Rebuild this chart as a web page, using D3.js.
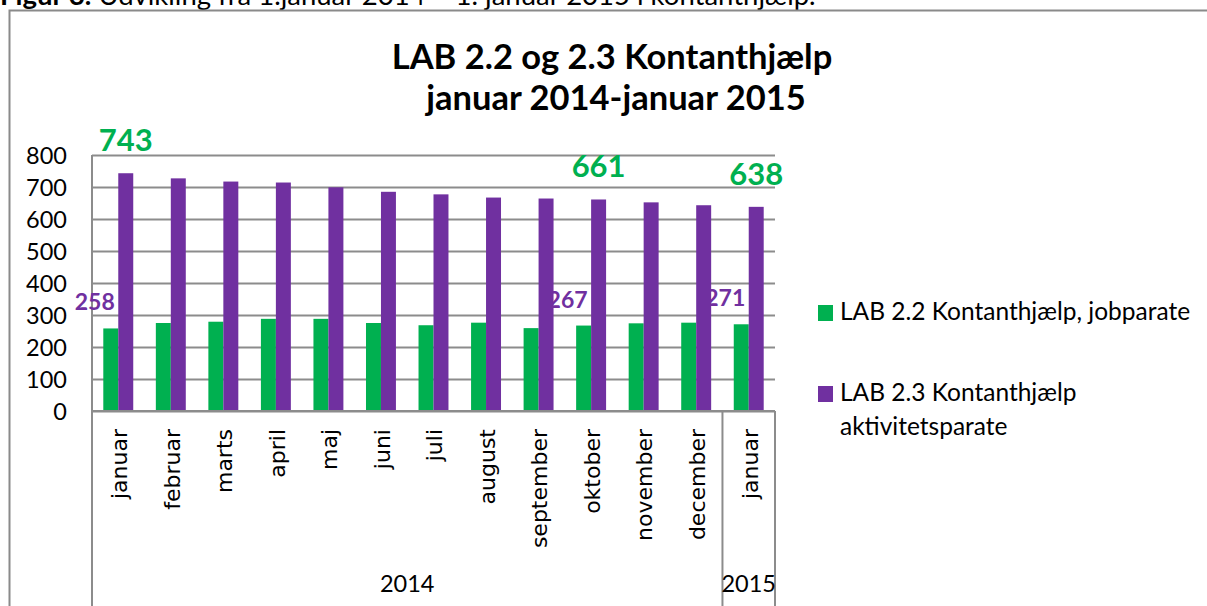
<!DOCTYPE html>
<html>
<head>
<meta charset="utf-8">
<script src="https://cdn.jsdelivr.net/npm/d3@7"></script>
<style>
  body { margin: 0; background: #fff; }
  svg { display: block; font-family: Lato, "Open Sans", sans-serif; }
</style>
</head>
<body>
<div id="chart"></div>
<script>
// data
var months = ["januar","februar","marts","april","maj","juni","juli","august","september","oktober","november","december","januar"];
var years = ["2014","2015"];
var yearSpans = [12,1];   // number of months in each year group
var jobparate = [258,275,279,288,288,275,268,276,259,267,274,276,271];
var aktivitetsparate = [743,727,717,714,699,685,677,667,664,661,652,643,638];
var labelled = [0,9,12];  // months that carry value labels
var seriesNames = ["LAB 2.2 Kontanthjælp, jobparate","LAB 2.3 Kontanthjælp aktivitetsparate"];
var yTicks = [0,100,200,300,400,500,600,700,800];

function drawChart() {
    var green = "#00b050", purple = "#7030a0", gridCol = "#8c8c8c";

    var W = 1207, H = 606;
    var pLeft = 92, pRight = 775, pTop = 155, pBottom = 411;

    var svg = d3.select("#chart").append("svg")
        .attr("width", W).attr("height", H);

    svg.append("rect").attr("width", W).attr("height", H).attr("fill", "#fff");

    // caption of the figure, cut at the top edge
    var cap = svg.append("text").attr("x", 0).attr("y", 5)
        .style("font-size", "27.5px").attr("fill", "#000");
    cap.append("tspan").style("font-weight", "bold").text("Figur 3.");
    cap.append("tspan").text(" Udvikling fra 1.januar 2014 – 1. januar 2015 i kontanthjælp.");

    // chart frame
    svg.append("rect").attr("x", 9.5).attr("y", 10.5).attr("width", W + 20).attr("height", H + 20)
        .attr("fill", "none").attr("stroke", "#8a8a8a").attr("stroke-width", 2);

    // title
    svg.append("text").attr("x", 612).attr("y", 69).attr("text-anchor", "middle")
        .style("font-size", "34.5px").style("font-weight", "bold").text("LAB 2.2 og 2.3 Kontanthjælp");
    svg.append("text").attr("x", 616).attr("y", 110).attr("text-anchor", "middle")
        .style("font-size", "34.5px").style("font-weight", "bold").text("januar 2014-januar 2015");

    var x0 = d3.scaleBand().domain(d3.range(months.length)).range([pLeft, pRight])
        .paddingInner(0.43).paddingOuter(0.215);
    var x1 = d3.scaleBand().domain([0,1]).range([0, x0.bandwidth()]);
    var y = d3.scaleLinear().domain([0,800]).range([pBottom, pTop]);

    // gridlines
    var grid = svg.append("g").attr("transform", "translate(" + pLeft + ",0)")
        .call(d3.axisLeft(y).tickValues(yTicks).tickSize(-(pRight - pLeft)).tickFormat(""));
    grid.select(".domain").remove();
    grid.selectAll("line").attr("stroke", gridCol).attr("stroke-width", 2);

    // y tick labels
    var ya = svg.append("g").attr("transform", "translate(67,0)")
        .call(d3.axisLeft(y).tickValues(yTicks).tickSize(0).tickPadding(0));
    ya.select(".domain").remove();
    ya.selectAll("text").style("font-size", "23.5px").style("font-family", "Lato, sans-serif")
        .attr("fill", "#000").attr("dy", "0.34em");

    // bars
    var groups = svg.append("g").selectAll("g").data(months).enter().append("g")
        .attr("transform", function(d, i) { return "translate(" + x0(i) + ",0)"; });
    groups.append("rect")
        .attr("x", x1(0)).attr("width", x1.bandwidth())
        .attr("y", function(d, i) { return y(jobparate[i]); })
        .attr("height", function(d, i) { return y(0) - y(jobparate[i]); })
        .attr("fill", green);
    groups.append("rect")
        .attr("x", x1(1)).attr("width", x1.bandwidth())
        .attr("y", function(d, i) { return y(aktivitetsparate[i]); })
        .attr("height", function(d, i) { return y(0) - y(aktivitetsparate[i]); })
        .attr("fill", purple);

    // axis lines
    svg.append("line").attr("x1", pLeft).attr("x2", pLeft).attr("y1", pTop).attr("y2", H)
        .attr("stroke", gridCol).attr("stroke-width", 2);
    svg.append("line").attr("x1", pLeft).attr("x2", pRight).attr("y1", pBottom).attr("y2", pBottom)
        .attr("stroke", gridCol).attr("stroke-width", 2);

    // year dividers
    var edges = [0];
    yearSpans.forEach(function(s, i) { edges.push(edges[i] + s); });
    var step = x0.step();
    var xEdge = function(k) { return pLeft + k * step; };
    edges.slice(1).forEach(function(k) {
        svg.append("line").attr("x1", xEdge(k)).attr("x2", xEdge(k)).attr("y1", pBottom).attr("y2", H)
            .attr("stroke", gridCol).attr("stroke-width", 2);
    });

    // month labels
    svg.append("g").selectAll("text").data(months).enter().append("text")
        .attr("transform", function(d, i) {
            return "translate(" + (x0(i) + x0.bandwidth() / 2) + ",429) rotate(-90)";
        })
        .attr("text-anchor", "end").attr("dy", "0.4em")
        .style("font-family", "'DejaVu Sans', sans-serif").style("font-size", "22px")
        .text(function(d) { return d; });

    // year labels
    svg.append("g").selectAll("text").data(years).enter().append("text")
        .attr("x", function(d, i) { return (xEdge(edges[i]) + xEdge(edges[i + 1])) / 2; })
        .attr("y", 592).attr("text-anchor", "middle")
        .style("font-size", "23.5px").text(function(d) { return d; });

    // value labels
    svg.append("g").selectAll("text").data(labelled).enter().append("text")
        .attr("x", function(i) { return x0(i) + x1(1) + x1.bandwidth() / 2; })
        .attr("y", function(i) { return y(aktivitetsparate[i]) - 22; })
        .attr("text-anchor", "middle").attr("fill", green)
        .style("font-size", "31px").style("font-weight", "bold")
        .text(function(i) { return aktivitetsparate[i]; });
    svg.append("g").selectAll("text").data(labelled).enter().append("text")
        .attr("x", function(i) { return x0(i) + x1(0) + x1.bandwidth() / 2 - 16; })
        .attr("y", function(i) { return y(jobparate[i]) - 18; })
        .attr("text-anchor", "middle").attr("fill", purple)
        .style("font-size", "23px").style("font-weight", "bold")
        .text(function(i) { return jobparate[i]; });

    // legend
    var lg = svg.append("g").attr("transform", "translate(818,0)");
    lg.append("rect").attr("x", 0).attr("y", 305).attr("width", 15).attr("height", 16).attr("fill", green);
    lg.append("text").attr("x", 22).attr("y", 320).style("font-size", "24.5px").text(seriesNames[0]);
    lg.append("rect").attr("x", 0).attr("y", 386).attr("width", 15).attr("height", 16).attr("fill", purple);
    var t2 = lg.append("text").attr("x", 22).attr("y", 401).style("font-size", "24.5px");
    var words = seriesNames[1].split(" ");
    t2.append("tspan").attr("x", 22).text(words.slice(0, 3).join(" "));
    t2.append("tspan").attr("x", 22).attr("dy", 34).text(words.slice(3).join(" "));
}

drawChart();
</script>
</body>
</html>
